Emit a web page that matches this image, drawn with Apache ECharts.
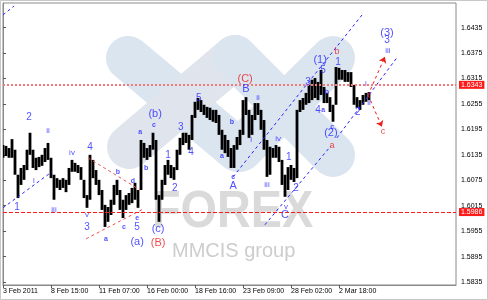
<!DOCTYPE html>
<html><head><meta charset="utf-8">
<script src="https://cdn.jsdelivr.net/npm/echarts@6/dist/echarts.min.js"></script>
<style>html,body{margin:0;padding:0;background:#fff}#c{width:488px;height:300px}</style>
</head><body><div id="c"></div>
<script>
// ---- data ----
const xLabels = ['3 Feb 2011','8 Feb 15:00','11 Feb 07:00','16 Feb 00:00','18 Feb 16:00','23 Feb 09:00','28 Feb 02:00','2 Mar 18:00'];
const xLabelPos = [0,16,32,48,64,80,96,112];
const yTicks = [1.5835,1.5895,1.5955,1.6015,1.6075,1.6135,1.6195,1.6255,1.6315,1.6375,1.6435];
const levels = [1.6343, 1.5986];

const highs = [1.6158,1.6156,1.6151,1.6172,1.6147,1.6088,1.6104,1.6111,1.6147,1.6187,
 1.6147,1.6128,1.6130,1.6135,1.6151,1.6163,1.6128,1.6088,1.6080,1.6076,
 1.6080,1.6076,1.6104,1.6123,1.6116,1.6111,1.6106,1.6076,1.6040,1.6135,
 1.6123,1.6099,1.6076,1.6052,1.6017,1.6012,1.6029,1.6064,1.6076,1.6052,
 1.6029,1.6040,1.6045,1.6057,1.6069,1.6052,1.6170,1.6163,1.6151,1.6158,
 1.6187,1.6170,1.6040,1.6076,1.6111,1.6123,1.6111,1.6106,1.6147,1.6175,
 1.6187,1.6187,1.6182,1.6229,1.6260,1.6269,1.6264,1.6253,1.6248,1.6246,
 1.6241,1.6241,1.6229,1.6194,1.6182,1.6170,1.6151,1.6158,1.6177,1.6194,
 1.6264,1.6271,1.6241,1.6229,1.6257,1.6257,1.6241,1.6217,1.6170,1.6154,
 1.6151,1.6158,1.6154,1.6123,1.6088,1.6106,1.6111,1.6104,1.6241,1.6264,
 1.6269,1.6281,1.6300,1.6312,1.6316,1.6307,1.6335,1.6295,1.6281,1.6271,
 1.6253,1.6342,1.6340,1.6335,1.6335,1.6330,1.6330,1.6300,1.6271,1.6264,
 1.6276,1.6281,1.6283];
const lows = [1.6128,1.6132,1.6128,1.6128,1.6088,1.6033,1.6064,1.6076,1.6099,1.6135,
 1.6104,1.6099,1.6106,1.6109,1.6118,1.6123,1.6080,1.6029,1.6057,1.6052,
 1.6057,1.6047,1.6064,1.6095,1.6095,1.6092,1.6076,1.6033,1.6010,1.6029,
 1.6080,1.6064,1.6040,1.6005,1.5965,1.5977,1.5993,1.6017,1.6040,1.6005,
 1.5986,1.6005,1.6017,1.6021,1.6029,1.6010,1.6052,1.6128,1.6123,1.6130,
 1.6147,1.6029,1.5977,1.6029,1.6064,1.6088,1.6080,1.6076,1.6099,1.6135,
 1.6158,1.6163,1.6147,1.6170,1.6222,1.6241,1.6236,1.6229,1.6222,1.6217,
 1.6213,1.6210,1.6182,1.6147,1.6139,1.6130,1.6104,1.6104,1.6147,1.6158,
 1.6182,1.6229,1.6175,1.6182,1.6217,1.6229,1.6194,1.6147,1.6083,1.6088,
 1.6128,1.6128,1.6118,1.6064,1.6036,1.6052,1.6076,1.6071,1.6080,1.6236,
 1.6241,1.6253,1.6257,1.6264,1.6269,1.6264,1.6276,1.6257,1.6257,1.6236,
 1.6213,1.6253,1.6312,1.6312,1.6307,1.6307,1.6295,1.6253,1.6246,1.6241,
 1.6253,1.6260,1.6264];

// trend lines [x1, y1, x2, y2] in data units
const blueLines = [[0,1.6010,16.3,1.6095],[0,1.6465,3.7,1.6486],[76.7,1.6083,119.7,1.6465],[87.3,1.5970,109.3,1.6156],[111.3,1.6175,131.3,1.6364]];
const redLines = [[28.3,1.6128,45.7,1.6052],[27.7,1.5937,46.7,1.6007]];
const redArrows = [[121.7,1.6276,127.3,1.6366],[121.7,1.6276,126.3,1.6201]];

// wave labels [text, x, price]
const blueBig = [['(b)',50.7,1.6231],['(a)',44.7,1.5929],['(c)',51.7,1.5960],['B',81,1.6290],['A',76.7,1.6062],['C',94,1.5993],['(1)',105.7,1.6359],['(2)',109.3,1.6187],['(3)',128,1.6423]];
const redBig = [['(C)',80.7,1.6314],['(B)',51.7,1.5927]];
const blueMid = [['2',8.7,1.6224],['1',4.7,1.6012],['4',29,1.6154],['3',28,1.5965],['5',44.7,1.5965],['1',55,1.6135],['2',57.3,1.6057],['3',59.3,1.6201],['4',62.7,1.6142],['5',65.3,1.6269],['3',101.7,1.6307],['5',106.7,1.6335],['1',111.7,1.6354],['1',95.3,1.6130],['2',97.7,1.6057],['2',118.3,1.6236],['3',128,1.6404],['4',105,1.6241]];
const blueRoman = [['i',10.3,1.6073],['ii',15,1.6191],['iii',17,1.6005],['iv',23,1.6139],['v',28,1.5993],['i',82.7,1.6170],['ii',85,1.6269],['iii',88,1.6064],['iv',91.7,1.6172],['v',94.3,1.6012],['i',121,1.6302],['ii',122,1.6257],['iii',128.3,1.6380]];
const blueSmall = [['a',34.3,1.5937],['b',38.3,1.6095],['c',40.3,1.5965],['d',43.3,1.6073],['e',44.7,1.5986],['a',45.7,1.6189],['b',47.7,1.6104],['c',50.3,1.6205],['a',73,1.6132],['b',76.3,1.6213],['c',76.7,1.6083],['b',108,1.6283],['a',106.7,1.6241],['c',109.7,1.6201]];
const redSmall = [['b',111.3,1.6378],['a',109.7,1.6158],['c',126.7,1.6189]];

// ---- chart ----
const FONT = 'Liberation Sans';
const BLUE = '#2626ff', RED = '#ee1c1c';
const chart = echarts.init(document.getElementById('c'), null, {renderer:'canvas'});

function capsule(x1,y1,x2,y2,w,fill){
  const cx=(x1+x2)/2, cy=(y1+y2)/2, dx=x2-x1, dy=y2-y1;
  const L=Math.hypot(dx,dy)+w, ang=Math.atan2(dy,dx);
  return {type:'rect', x:cx, y:cy, rotation:-ang, silent:true, z:-10,
    shape:{x:-L/2,y:-w/2,width:L,height:w,r:w/2}, style:{fill}};
}
function labelSeries(arr, color, size, weight){
  return {type:'scatter', silent:true, z:6, symbol:'circle', symbolSize:0.1,
    itemStyle:{color:'rgba(0,0,0,0)'}, clip:false,
    data: arr.map(a=>({name:a[0], value:[a[1],a[2]]})),
    label:{show:true, position:'inside', formatter:'{b}', color, fontSize:size, fontFamily:FONT, fontWeight:weight||'normal'}};
}
function seg(l, color){
  return [{coord:[l[0],l[1]], lineStyle:{color, width:1, type:[3,3]}}, {coord:[l[2],l[3]]}];
}
const mlData = [];
blueLines.forEach(l=>mlData.push(seg(l, BLUE)));
redLines.forEach(l=>mlData.push(seg(l, '#f05050')));
redArrows.forEach(l=>mlData.push([{coord:[l[0],l[1]], symbol:'none', lineStyle:{color:RED,width:1,type:[3,3]}},{coord:[l[2],l[3]], symbol:'arrow', symbolSize:6, itemStyle:{color:RED}}]));
mlData.push({yAxis:levels[0], lineStyle:{color:'#f37a7a', width:2, type:[2,2]},
  label:{show:true, position:'end', distance:3, formatter:levels[0].toFixed(4), color:'#fff', backgroundColor:'#ff1a1a', fontSize:7, fontFamily:FONT, padding:[1,2,0,2]}});
mlData.push({yAxis:levels[1], lineStyle:{color:'#ff1a1a', width:1, type:[4,2]},
  label:{show:true, position:'end', distance:3, formatter:levels[1].toFixed(4), color:'#fff', backgroundColor:'#ff1a1a', fontSize:7, fontFamily:FONT, padding:[1,2,0,2]}});

const barData = highs.map((h,i)=>[i, lows[i], h]);

chart.setOption({
  animation:false,
  backgroundColor:'#fff',
  textStyle:{fontFamily:FONT},
  graphic:[
    {type:'rect', silent:true, z:-20, shape:{x:0.5,y:0.5,width:487,height:299}, style:{fill:'none', stroke:'#c8c8c8', lineWidth:1}},
    capsule(128,58,238,150,44,'#dbe5f0'),
    capsule(235,57,129,147,44,'#e0e5ed'),
    capsule(235,57,333,155,44,'#dbe5f0'),
    capsule(333,58,240,150,44,'#dbe5f0'),
    {type:'text', silent:true, z:-9, x:152, y:187, style:{text:'FOREX', font:'bold 52px "Liberation Sans"', fill:'#dadada'}, scaleX:0.9},
    {type:'text', silent:true, z:-9, x:172, y:241, style:{text:'MMCIS group', font:'20px "Liberation Sans"', fill:'#cdcdcd'}}
  ],
  grid:{left:3, right:32, top:3, bottom:15, show:true, borderColor:'#8a8a8a', borderWidth:1, backgroundColor:'transparent', outerBoundsMode:'none'},
  xAxis:{type:'value', min:0, max:151, splitLine:{show:false},
    axisLine:{show:true, lineStyle:{color:'#8a8a8a'}},
    axisTick:{show:true, length:3, customValues:xLabelPos, lineStyle:{color:'#555'}},
    axisLabel:{show:true, customValues:xLabelPos, align:'left', margin:3, fontSize:7, color:'#000', fontFamily:FONT,
      formatter:v=>xLabels[xLabelPos.indexOf(Math.round(v))]||''}},
  yAxis:{type:'value', position:'right', min:1.5828, max:1.6493, scale:true, splitLine:{show:false},
    axisLine:{show:true, lineStyle:{color:'#8a8a8a'}},
    axisTick:{show:true, length:3, customValues:yTicks, lineStyle:{color:'#555'}},
    axisLabel:{show:true, customValues:yTicks, margin:5, fontSize:7, color:'#000', fontFamily:FONT,
      formatter:v=>Number(v).toFixed(4)}},
  series:[
    {type:'custom', z:3, data:barData, encode:{x:0, y:[1,2]}, clip:true,
      renderItem:function(params, api){
        const lo = api.coord([api.value(0), api.value(1)]);
        const hi = api.coord([api.value(0), api.value(2)]);
        return {type:'rect', shape:{x:lo[0]-1.4, y:hi[1], width:2.8, height:Math.max(1, lo[1]-hi[1])}, style:{fill:'#000'}};
      },
      markLine:{silent:true, symbol:'none', animation:false, label:{show:false}, data:mlData}
    },
    labelSeries(blueBig, BLUE, 11),
    labelSeries(redBig, RED, 11),
    labelSeries(blueMid, BLUE, 10),
    labelSeries(blueRoman, BLUE, 8),
    labelSeries(blueSmall, BLUE, 7, 'bold'),
    labelSeries(redSmall, RED, 9)
  ]
});
</script></body></html>
